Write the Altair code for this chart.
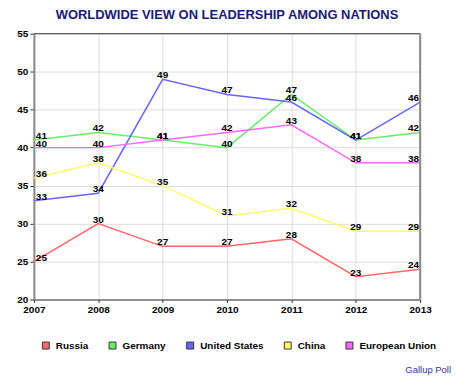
import altair as alt
import pandas as pd

years = [2007, 2008, 2009, 2010, 2011, 2012, 2013]
series_names = ["Russia", "Germany", "United States", "China", "European Union"]
russia = [25, 30, 27, 27, 28, 23, 24]
germany = [41, 42, 41, 40, 47, 41, 42]
united_states = [33, 34, 49, 47, 46, 41, 46]
china = [36, 38, 35, 31, 32, 29, 29]
european_union = [40, 40, 41, 42, 43, 38, 38]
colors = ["#ff6666", "#66ee66", "#6666ff", "#ffff66", "#ff66ff"]
y_ticks = [20, 25, 30, 35, 40, 45, 50, 55]
title_text = "WORLDWIDE VIEW ON LEADERSHIP AMONG NATIONS"
source_text = "Gallup Poll"

rows = []
for name, vals in zip(series_names, [russia, germany, united_states, china, european_union]):
    for yr, v in zip(years, vals):
        rows.append({"year": yr, "series": name, "value": v})
df = pd.DataFrame(rows)

W, H = 388, 267
FONT = "Liberation Sans"

x = alt.X("year:Q",
          scale=alt.Scale(domain=[years[0], years[-1]], nice=False, zero=False),
          axis=alt.Axis(values=years, format="d", title=None, labelFont=FONT,
                        labelFontSize=10, labelFontWeight="bold", labelColor="#000",
                        domainColor="#333", domainWidth=1, tickColor="#333", tickSize=3,
                        gridColor="#dddddd", labelPadding=2, labelFlush=False))
y = alt.Y("value:Q",
          scale=alt.Scale(domain=[20, 55], nice=False, zero=False),
          axis=alt.Axis(values=y_ticks, title=None, labelFont=FONT,
                        labelFontSize=10, labelFontWeight="bold", labelColor="#000",
                        domainColor="#888", domainWidth=2, tickColor="#333", tickSize=4,
                        gridColor="#dddddd", labelPadding=2))

# line colours: same mapping, domain listed in reverse so the (hidden) stroke legend
# is not merged with the filled-square legend below
lines = alt.Chart(df).mark_line(strokeWidth=1.5).encode(
    x=x, y=y,
    color=alt.Color("series:N",
                    scale=alt.Scale(domain=series_names[::-1], range=colors[::-1]),
                    legend=None),
    detail="series:N",
)

legend_layer = alt.Chart(df).mark_square(filled=True, size=0).encode(
    x=x, y=y,
    fill=alt.Fill("series:N", scale=alt.Scale(domain=series_names, range=colors),
                  legend=alt.Legend(title=None, orient="none", legendX=7, legendY=308,
                                    direction="horizontal", symbolType="square",
                                    symbolSize=49, symbolStrokeColor="#333333",
                                    symbolStrokeWidth=1, symbolOpacity=1,
                                    labelFont=FONT, labelFontSize=10,
                                    labelFontWeight="bold", labelColor="#000",
                                    columnPadding=18, labelOffset=5, padding=0)),
)

base_txt = dict(fontWeight="bold", fontSize=10, font=FONT, color="#000", baseline="alphabetic", dy=-1)
lab_first = alt.Chart(df).transform_filter(f"datum.year == {years[0]}").mark_text(
    align="left", dx=2, **base_txt).encode(x=x, y=y, text="value:Q")
lab_mid = alt.Chart(df).transform_filter(
    f"datum.year > {years[0]} && datum.year < {years[-1]}").mark_text(
    align="center", **base_txt).encode(x=x, y=y, text="value:Q")
lab_last = alt.Chart(df).transform_filter(f"datum.year == {years[-1]}").mark_text(
    align="right", dx=-1, **base_txt).encode(x=x, y=y, text="value:Q")

one = pd.DataFrame({"t": [source_text]})
top_rule = alt.Chart(one).mark_rule(color="#333", strokeWidth=1).encode(
    x=alt.value(0), x2=alt.value(W), y=alt.value(0))
right_rule = alt.Chart(one).mark_rule(color="#888", strokeWidth=2).encode(
    x=alt.value(W), y=alt.value(0), y2=alt.value(H))
source = alt.Chart(one).mark_text(align="right", baseline="alphabetic", font=FONT,
                                  fontSize=9.5, color="#333399").encode(
    x=alt.value(419), y=alt.value(341), text="t:N")

chart = alt.layer(lines, legend_layer, lab_first, lab_mid, lab_last, top_rule, right_rule, source).properties(
    width=W, height=H,
    title=alt.TitleParams(title_text, font=FONT, fontSize=13, fontWeight="bold",
                          color="#1a1a75", anchor="middle", dy=-3),
    padding={"left": 26, "top": 25, "right": 32, "bottom": 75},
    autosize=alt.AutoSizeParams(type="none"),
    background="white",
).configure_view(stroke=None)

chart.save("out.html", embed_options={"renderer": "svg", "actions": False})
